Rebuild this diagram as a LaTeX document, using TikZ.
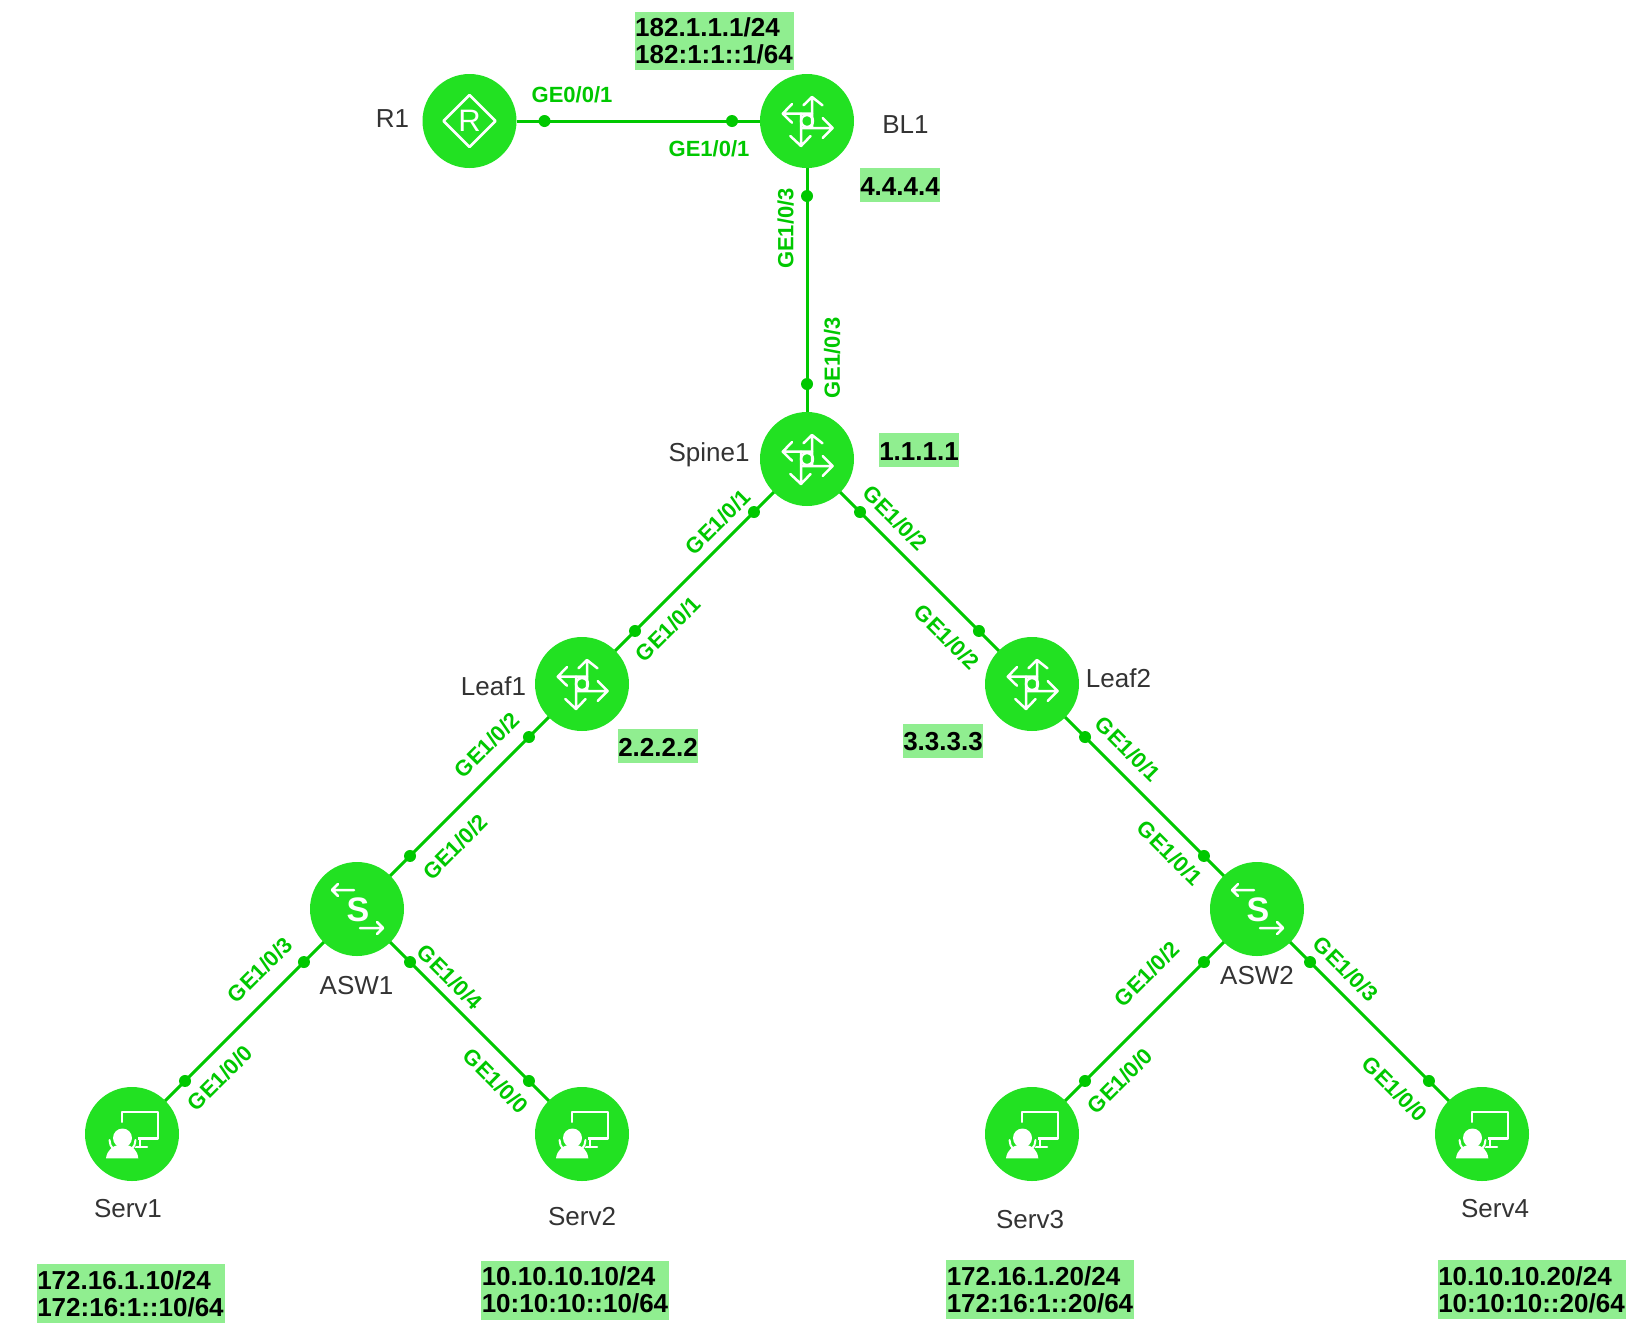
\documentclass[tikz,border=0pt]{standalone}
\usepackage{fontspec}
\setmainfont{Liberation Sans}
\usetikzlibrary{calc}
\definecolor{devgreen}{RGB}{34,225,34}
\definecolor{linkgreen}{RGB}{0,200,0}
\definecolor{ipbg}{RGB}{144,238,144}
\definecolor{namegray}{RGB}{51,51,51}
\tikzset{
  device/.style={circle,fill=devgreen,minimum size=94pt,inner sep=0pt,outer sep=0pt},
  link/.style={draw=linkgreen,line width=3pt},
  portdot/.style={circle,fill=linkgreen,minimum size=12pt,inner sep=0pt,outer sep=0pt},
  portlabel/.style={text=linkgreen,inner sep=0pt,font=\fontsize{22}{24}\selectfont\bfseries},
  devname/.style={text=namegray,inner sep=0pt,font=\fontsize{26}{28}\selectfont},
  ipbox/.style={fill=ipbg,inner xsep=0pt,inner ysep=0pt,align=left,anchor=center,text=black,font=\fontsize{26}{27}\selectfont\bfseries},
  ipone/.style={ipbox,minimum width=80pt,minimum height=34pt,text height=21pt},
  iptwo/.style={ipbox,minimum width=188pt,minimum height=59pt},
  iconline/.style={draw=white,line width=2.5pt,line cap=round,line join=round},
  l3icon/.pic={
    \draw[iconline] (5,-7.3) -- (-24.3,-7.3) (-15,-17) -- (-24.3,-7.3) -- (-15,1.7);
    \draw[iconline] (5,6) -- (5,-24) (-3.6,-15.7) -- (5,-24) -- (15.5,-15.7);
    \draw[iconline] (-5,7) -- (25.7,7) (15.7,-3) -- (25.7,7) -- (15.7,17);
    \draw[iconline] (-6,-7.3) -- (-6,25) (-16.7,15) -- (-6,25) -- (3.6,15);
    \draw[iconline] (0,0) circle (6);
  },
  routericon/.pic={
    \draw[iconline] (-26,0) -- (0,-26) -- (26,0) -- (0,26) -- cycle;
    \node[text=white,inner sep=0pt,font=\fontsize{31}{31}\selectfont] at (0,0) {R};
  },
  swicon/.pic={
    \draw[iconline] (-3,-19) -- (-25,-19) (-19,-25) -- (-25,-19) -- (-19,-13);
    \draw[iconline] (3,19) -- (26,19) (20,13) -- (26,19) -- (20,25);
    \node[text=white,inner sep=0pt,font=\fontsize{34}{34}\selectfont\bfseries] at (1,1) {S};
  },
  servicon/.pic={
    \draw[iconline] (-10,-22) rectangle (26,4.5);
    \draw[iconline] (8,4.5) -- (8,13) (1.5,13) -- (15,13);
    \fill[devgreen] (-9.5,4) circle (15.5);
    \draw[draw=white,line width=2pt,line cap=round] (-22.5,6) arc[start angle=180,end angle=0,radius=13];
    \fill[white] (-9.5,4) circle (9.5);
    \fill[white] (-26,24.3) .. controls (-25,16) and (-19,12) .. (-14,11) -- (-5,11) .. controls (0,12) and (5.5,16) .. (6.3,24.3) -- cycle;
  }
}
\newcommand{\lnk}[2]{%
  \draw[link] (#1) -- (#2);
  \node[portdot] (#1-#2-a) at ($(#1)!75pt!(#2)$) {};
  \node[portdot] (#1-#2-b) at ($(#2)!75pt!(#1)$) {};
}
\begin{document}
\begin{tikzpicture}[x=1pt,y=-1pt]
\fill[white] (0,0) rectangle (1650,1334);
\useasboundingbox (0,0) rectangle (1650,1334);

\node[device] (R1) at (469.5,121) {};
\node[device] (BL1) at (807,121) {};
\node[device] (Spine1) at (807,459) {};
\node[device] (Leaf1) at (582,684) {};
\node[device] (Leaf2) at (1032,684) {};
\node[device] (ASW1) at (357,909) {};
\node[device] (ASW2) at (1257,909) {};
\node[device] (Serv1) at (132,1134) {};
\node[device] (Serv2) at (582,1134) {};
\node[device] (Serv3) at (1032,1134) {};
\node[device] (Serv4) at (1482,1134) {};

\pic at (R1) {routericon};
\pic at (BL1) {l3icon};
\pic at (Spine1) {l3icon};
\pic at (Leaf1) {l3icon};
\pic at (Leaf2) {l3icon};
\pic at (ASW1) {swicon};
\pic at (ASW2) {swicon};
\pic at (Serv1) {servicon};
\pic at (Serv2) {servicon};
\pic at (Serv3) {servicon};
\pic at (Serv4) {servicon};

\lnk{R1}{BL1}
\lnk{BL1}{Spine1}
\lnk{Spine1}{Leaf1}
\lnk{Spine1}{Leaf2}
\lnk{Leaf1}{ASW1}
\lnk{Leaf2}{ASW2}
\lnk{ASW1}{Serv1}
\lnk{ASW1}{Serv2}
\lnk{ASW2}{Serv3}
\lnk{ASW2}{Serv4}

\node[portlabel] (p1) at (572,95) {GE0/0/1};
\node[portlabel] (p2) at (709,149) {GE1/0/1};
\node[portlabel,rotate=90] (p3) at (785.5,228.5) {GE1/0/3};
\node[portlabel,rotate=90] (p4) at (832,358) {GE1/0/3};
\node[portlabel,rotate=45] (p5) at (718,522) {GE1/0/1};
\node[portlabel,rotate=45] (p6) at (668,629) {GE1/0/1};
\node[portlabel,rotate=-45] (p7) at (895.5,518) {GE1/0/2};
\node[portlabel,rotate=-45] (p8) at (947,637) {GE1/0/2};
\node[portlabel,rotate=45] (p9) at (487,745) {GE1/0/2};
\node[portlabel,rotate=45] (p10) at (455.5,847) {GE1/0/2};
\node[portlabel,rotate=-45] (p11) at (1128,749) {GE1/0/1};
\node[portlabel,rotate=-45] (p12) at (1170,853) {GE1/0/1};
\node[portlabel,rotate=45] (p13) at (260,970) {GE1/0/3};
\node[portlabel,rotate=-45] (p14) at (450,977) {GE1/0/4};
\node[portlabel,rotate=45] (p15) at (220,1078) {GE1/0/0};
\node[portlabel,rotate=-45] (p16) at (496,1081) {GE1/0/0};
\node[portlabel,rotate=45] (p17) at (1147,974) {GE1/0/2};
\node[portlabel,rotate=-45] (p18) at (1346,969) {GE1/0/3};
\node[portlabel,rotate=45] (p19) at (1120,1081) {GE1/0/0};
\node[portlabel,rotate=-45] (p20) at (1395,1089) {GE1/0/0};

\node[devname] (nR1) at (392.5,119) {R1};
\node[devname] (nBL1) at (905.5,125) {BL1};
\node[devname] (nSpine1) at (709,455) {Spine1};
\node[devname] (nLeaf1) at (493.5,686) {Leaf1};
\node[devname] (nLeaf2) at (1118.5,678) {Leaf2};
\node[devname] (nASW1) at (356.5,986) {ASW1};
\node[devname] (nASW2) at (1257,975.5) {ASW2};
\node[devname] (nServ1) at (128,1209) {Serv1};
\node[devname] (nServ2) at (582,1217) {Serv2};
\node[devname] (nServ3) at (1030,1220) {Serv3};
\node[devname] (nServ4) at (1495,1209) {Serv4};

\node[ipbox,minimum width=159pt,minimum height=58.5pt] (ipBL) at (714,41) {182.1.1.1/24\\182:1:1::1/64};
\node[ipone] (ip4) at (900,185) {4.4.4.4};
\node[ipone] (ip1) at (919,450) {1.1.1.1};
\node[ipone] (ip2) at (658,745.5) {2.2.2.2};
\node[ipone] (ip3) at (943,740.5) {3.3.3.3};
\node[iptwo] (ipS1) at (130.5,1293.5) {172.16.1.10/24\\172:16:1::10/64};
\node[iptwo] (ipS2) at (575,1290) {10.10.10.10/24\\10:10:10::10/64};
\node[iptwo] (ipS3) at (1040,1289.5) {172.16.1.20/24\\172:16:1::20/64};
\node[iptwo] (ipS4) at (1531.5,1289.5) {10.10.10.20/24\\10:10:10::20/64};
\end{tikzpicture}
\end{document}
